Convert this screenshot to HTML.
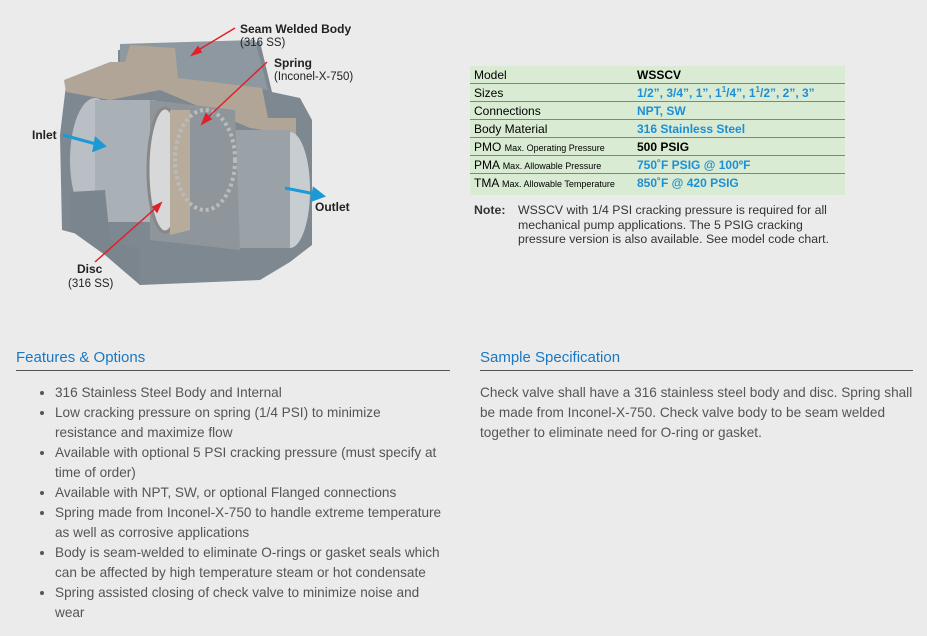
<!DOCTYPE html>
<html><head><meta charset="utf-8"><style>
body{margin:0;width:927px;height:636px;background:#ebebeb;font-family:"Liberation Sans",sans-serif;position:relative;overflow:hidden}
.a{position:absolute}
table{border-collapse:collapse;font-family:"Liberation Sans",sans-serif;font-size:12px}
td{height:17px;padding:0 4px;border-bottom:1px solid #2aa0d8;white-space:nowrap}
td.v{color:#1d8fd6;font-weight:bold}
small{font-size:9px}
h2{font-weight:normal;font-size:15px;color:#1a78c2;margin:0}
.ul{font-size:13.6px;color:#555;line-height:20px}
</style></head><body>
<svg class="a" style="left:0;top:0" width="370" height="300">
<polygon points="118,50 260,42 272,92 300,98 312,120 312,245 290,262 260,280 140,285 108,255 100,240 62,230 60,135 66,85 118,70" fill="#7e8890"/>
<polygon points="120,44 255,40 268,90 180,80 120,70" fill="#8d98a0"/>
<polygon points="64,80 110,62 125,62 130,45 175,48 178,78 262,88 268,118 296,118 296,135 250,128 160,90 110,100 66,92" fill="#b0a597"/>
<ellipse cx="95" cy="160" rx="25" ry="62" fill="#b9bfc4"/>
<rect x="95" y="100" width="60" height="122" fill="#a9b0b6"/>
<ellipse cx="290" cy="190" rx="20" ry="58" fill="#c8cdd1"/>
<rect x="230" y="130" width="60" height="118" fill="#9aa2a8"/>
<polygon points="150,100 235,110 240,250 150,240" fill="#8e969c"/>
<ellipse cx="165" cy="170" rx="17" ry="62" fill="#d6d8da" stroke="#888" stroke-width="3"/>
<polygon points="170,110 190,110 190,230 170,235" fill="#b7ab9c"/>
<ellipse cx="205" cy="160" rx="30" ry="50" fill="none" stroke="#bbb" stroke-width="4" stroke-dasharray="3 3"/>
<polygon points="70,192 105,190 110,240 140,250 140,285 105,255 70,230" fill="#7b858d"/>
<g stroke="#e0202a" stroke-width="1.5" fill="#e0202a">
<line x1="235" y1="28" x2="195" y2="52"/><polygon points="192,55 198,47 201,52"/>
<line x1="267" y1="62" x2="205" y2="120"/><polygon points="202,124 206,114 211,119"/>
<line x1="95" y1="262" x2="158" y2="206"/><polygon points="161,203 157,212 153,207"/>
</g>
<g stroke="#1a9ad6" stroke-width="3" fill="#1a9ad6">
<line x1="63" y1="135" x2="96" y2="144"/><polygon points="104,146 94,150 96,139"/>
<line x1="285" y1="188" x2="315" y2="194"/><polygon points="323,196 312,200 314,189"/>
</g>
<text x="240" y="33" font-size="12" font-weight="bold" fill="#222">Seam Welded Body</text>
<text x="240" y="46" font-size="11.5" fill="#222">(316 SS)</text>
<text x="274" y="67" font-size="12" font-weight="bold" fill="#222">Spring</text>
<text x="274" y="80" font-size="11.5" fill="#222">(Inconel-X-750)</text>
<text x="32" y="139" font-size="12" font-weight="bold" fill="#222">Inlet</text>
<text x="315" y="211" font-size="12" font-weight="bold" fill="#222">Outlet</text>
<text x="77" y="273" font-size="12" font-weight="bold" fill="#222">Disc</text>
<text x="68" y="287" font-size="11.5" fill="#222">(316 SS)</text>
</svg>
<div class="a" style="left:470px;top:66px;width:375px;height:129px;background:#d9ebd3">
<table style="width:375px">
<tr><td style="width:155px">Model</td><td style="font-weight:bold">WSSCV</td></tr>
<tr><td>Sizes</td><td class="v">1/2”, 3/4”, 1”, 1<sup style="font-size:8px">1</sup>/4”, 1<sup style="font-size:8px">1</sup>/2”, 2”, 3”</td></tr>
<tr><td>Connections</td><td class="v">NPT, SW</td></tr>
<tr><td>Body Material</td><td class="v">316 Stainless Steel</td></tr>
<tr><td>PMO <small>Max. Operating Pressure</small></td><td style="font-weight:bold">500 PSIG</td></tr>
<tr><td>PMA <small>Max. Allowable Pressure</small></td><td class="v">750˚F PSIG @ 100ºF</td></tr>
<tr><td style="border:0">TMA <small>Max. Allowable Temperature</small></td><td class="v" style="border:0">850˚F @ 420 PSIG</td></tr>
</table></div>
<div class="a" style="left:474px;top:203px;font-size:12.3px;color:#333;line-height:14.5px"><b style="position:absolute;left:0">Note:</b><div style="margin-left:44px;width:320px">WSSCV with 1/4 PSI cracking pressure is required for all mechanical pump applications. The 5 PSIG cracking pressure version is also available. See model code chart.</div></div>
<div class="a" style="left:16px;top:349px;width:434px"><h2>Features &amp; Options</h2><div style="border-top:1px solid #555;margin-top:4px"></div>
<ul class="ul" style="margin:12px 0 0;padding-left:39px;width:390px">
<li>316 Stainless Steel Body and Internal</li>
<li>Low cracking pressure on spring (1/4 PSI) to minimize resistance and maximize flow</li>
<li>Available with optional 5 PSI cracking pressure (must specify at time of order)</li>
<li>Available with NPT, SW, or optional Flanged connections</li>
<li>Spring made from Inconel-X-750 to handle extreme temperature as well as corrosive applications</li>
<li>Body is seam-welded to eliminate O-rings or gasket seals which can be affected by high temperature steam or hot condensate</li>
<li>Spring assisted closing of check valve to minimize noise and wear</li>
</ul></div>
<div class="a" style="left:480px;top:349px;width:433px"><h2>Sample Specification</h2><div style="border-top:1px solid #555;margin-top:4px"></div>
<div class="ul" style="margin-top:12px">Check valve shall have a 316 stainless steel body and disc. Spring shall be made from Inconel-X-750. Check valve body to be seam welded together to eliminate need for O-ring or gasket.</div></div>
</body></html>
